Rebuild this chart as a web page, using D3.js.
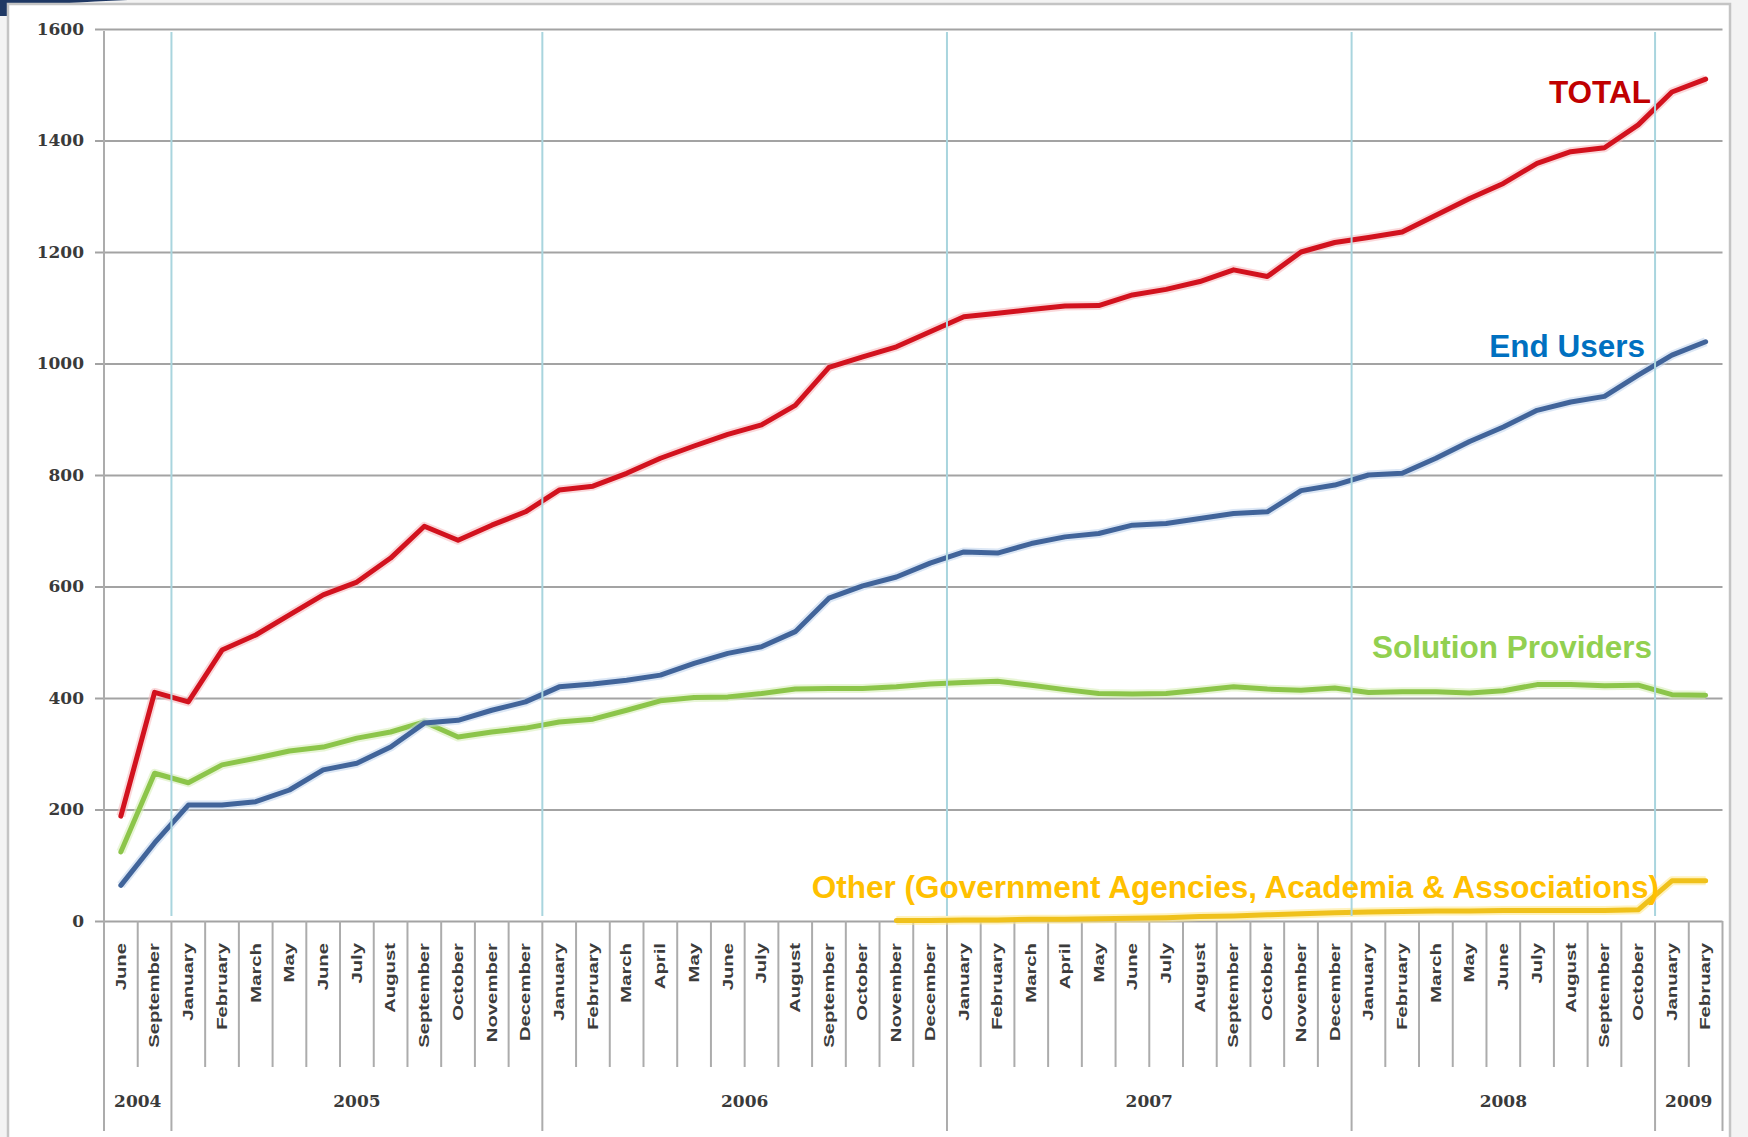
<!DOCTYPE html>
<html>
<head>
<meta charset="utf-8">
<script src="https://cdn.jsdelivr.net/npm/d3@7.9.0/dist/d3.min.js"></script>
<style>
  html, body { margin: 0; padding: 0; background: #fff; }
  svg { display: block; }
  .ytick text { font-family: "DejaVu Serif", serif; font-weight: bold; font-size: 17px; fill: #3a3a3a; }
  .month { font-family: "Liberation Sans", Arial, sans-serif; font-weight: bold; font-size: 14px; fill: #3c3c3c; }
  .year { font-family: "DejaVu Serif", serif; font-weight: bold; font-size: 17px; fill: #3a3a3a; }
  .label { font-family: "Liberation Sans", Arial, sans-serif; font-weight: bold; font-size: 31.5px; }
</style>
</head>
<body>
<svg id="chart" width="1748" height="1137"></svg>
<script>
// Category labels (one per data point) and the year groups below them
const months = [
  "June", "September",
  "January", "February", "March", "May", "June", "July", "August", "September", "October", "November", "December",
  "January", "February", "March", "April", "May", "June", "July", "August", "September", "October", "November", "December",
  "January", "February", "March", "April", "May", "June", "July", "August", "September", "October", "November", "December",
  "January", "February", "March", "May", "June", "July", "August", "September", "October",
  "January", "February"
];
const years = ["2004", "2005", "2006", "2007", "2008", "2009"];
const monthsPerYear = [2, 11, 12, 12, 9, 2];
const yTicks = [0, 200, 400, 600, 800, 1000, 1200, 1400, 1600];

// Series values
const total = [188, 410, 393, 486, 513, 549, 585, 608, 651, 708, 683, 710, 734,
  773, 780, 803, 830, 852, 873, 890, 925, 993, 1012, 1030, 1057,
  1084, 1090, 1097, 1103, 1104, 1123, 1133, 1147, 1168, 1156, 1200, 1217,
  1226, 1236, 1266, 1296, 1323, 1359, 1380, 1387, 1428,
  1487, 1510];
const endUsers = [64, 140, 208, 208, 214, 235, 271, 283, 312, 355, 360, 378, 393,
  420, 425, 432, 441, 462, 480, 492, 519, 579, 601, 617, 642,
  662, 660, 677, 689, 695, 710, 713, 722, 731, 734, 772, 782,
  800, 803, 830, 860, 886, 916, 931, 941, 979,
  1015, 1039];
const solutionProviders = [124, 265, 248, 280, 292, 305, 312, 328, 339, 357, 330, 339, 346,
  357, 362, 378, 395, 401, 402, 408, 416, 417, 417, 420, 425,
  428, 430, 423, 415, 408, 407, 408, 414, 420, 416, 414, 418,
  410, 411, 411, 409, 413, 424, 424, 422, 423,
  406, 405];
const other = [null, null, null, null, null, null, null, null, null, null, null, null, null,
  null, null, null, null, null, null, null, null, null, null, 1, 1,
  2, 2, 3, 3, 4, 5, 6, 8, 9, 11, 13, 15,
  16, 17, 18, 18, 19, 19, 19, 19, 20,
  72, 72];

const svg = d3.select("#chart");

// Frame behind the chart
svg.append("rect").attr("x", 0).attr("y", 0).attr("width", 1748).attr("height", 1137).attr("fill", "#f3f3f3");
svg.append("path").attr("d", "M0,0 H128 Q60,3 8,7 V16 H0 Z").attr("fill", "#1f3864");
svg.append("rect").attr("x", 8).attr("y", 4).attr("width", 1722).attr("height", 1150)
  .attr("fill", "#fff").attr("stroke", "#c4c4c4").attr("stroke-width", 2.5);

// Scales
const x = d3.scaleBand().domain(d3.range(months.length)).range([104, 1722.5]).padding(0);
const y = d3.scaleLinear().domain([0, 1600]).range([921, 29]);
const bw = x.bandwidth();
const xEnd = x.range()[1];
const xAt = k => k < months.length ? x(k) : xEnd;

// Horizontal gridlines + tick labels
const yAxis = d3.axisLeft(y)
  .tickValues(yTicks)
  .tickFormat(d3.format("d"))
  .tickSizeInner(-(xEnd - 95))
  .tickSizeOuter(0)
  .tickPadding(11);
svg.append("g")
  .attr("class", "ytick")
  .attr("transform", "translate(95,0)")
  .call(yAxis)
  .call(g => g.select(".domain").remove())
  .call(g => g.selectAll("line").attr("stroke", "#a3a3a3").attr("stroke-width", 2));

// Boundaries between categories (long ones at year changes)
const yearStarts = [0, ...d3.cumsum(monthsPerYear)];
const boundaries = d3.range(months.length + 1);
svg.append("g").selectAll("line")
  .data(boundaries)
  .join("line")
  .attr("x1", xAt)
  .attr("x2", xAt)
  .attr("y1", k => k === 0 ? y(1600) + 2 : y(0))
  .attr("y2", k => yearStarts.includes(k) ? 1131 : 1067)
  .attr("stroke", "#acacac")
  .attr("stroke-width", 2);

// Month labels
svg.append("g").selectAll("text")
  .data(months)
  .join("text")
  .attr("class", "month")
  .attr("transform", (d, i) => `translate(${x(i) + bw / 2},943) rotate(-90) scale(1.45,1)`)
  .attr("text-anchor", "end")
  .attr("dominant-baseline", "central")
  .text(d => d);

// Year labels
svg.append("g").selectAll("text")
  .data(years)
  .join("text")
  .attr("class", "year")
  .attr("x", (d, i) => (xAt(yearStarts[i]) + xAt(yearStarts[i + 1])) / 2)
  .attr("y", 1101)
  .attr("text-anchor", "middle")
  .attr("dominant-baseline", "central")
  .text(d => d);

// Series lines
const line = d3.line()
  .defined(d => d != null)
  .x((d, i) => x(i) + bw / 2)
  .y(d => y(d));

const series = [
  { name: "Other", values: other, color: "#efc11c", glow: "#ffe788" },
  { name: "Solution Providers", values: solutionProviders, color: "#8cc54a", glow: "#d5ecb4" },
  { name: "End Users", values: endUsers, color: "#41649a", glow: "#bfd4ec" },
  { name: "TOTAL", values: total, color: "#d2121e", glow: "#f5b8bb" }
];

series.forEach(s => {
  svg.append("path")
    .attr("d", line(s.values))
    .attr("fill", "none")
    .attr("stroke", s.glow)
    .attr("stroke-width", 9)
    .attr("stroke-opacity", 0.55)
    .attr("stroke-linejoin", "round");
  svg.append("path")
    .attr("d", line(s.values))
    .attr("fill", "none")
    .attr("stroke", s.color)
    .attr("stroke-width", 5)
    .attr("stroke-linejoin", "round")
    .attr("stroke-linecap", "round");
});

// Year separators in the plot area
svg.append("g").selectAll("line")
  .data(yearStarts.slice(1, -1))
  .join("line")
  .attr("x1", k => x(k))
  .attr("x2", k => x(k))
  .attr("y1", y(1600) + 3)
  .attr("y2", y(0) - 5)
  .attr("stroke", "#a9d5de")
  .attr("stroke-width", 2);

// Series labels
const labels = [
  { text: "TOTAL", color: "#c00000", x: 1651, y: 103 },
  { text: "End Users", color: "#0070c0", x: 1645, y: 357 },
  { text: "Solution Providers", color: "#92d050", x: 1652, y: 658 },
  { text: "Other (Government Agencies, Academia & Associations)", color: "#ffc000", x: 1659, y: 898 }
];
svg.append("g").selectAll("text")
  .data(labels)
  .join("text")
  .attr("class", "label")
  .attr("x", d => d.x)
  .attr("y", d => d.y)
  .attr("text-anchor", "end")
  .attr("fill", d => d.color)
  .text(d => d.text);
</script>
</body>
</html>
